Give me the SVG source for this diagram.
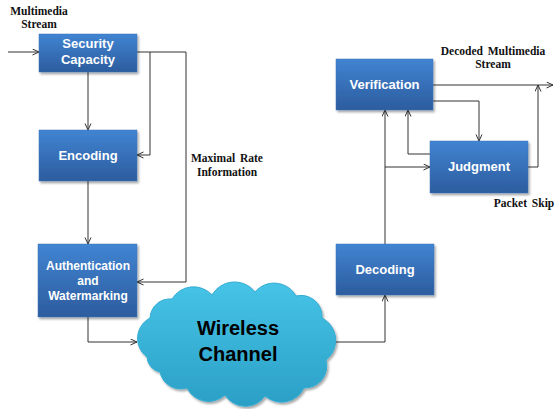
<svg xmlns="http://www.w3.org/2000/svg" width="555" height="409" viewBox="0 0 555 409">
<defs>
<linearGradient id="boxg" x1="0" y1="0" x2="0" y2="1">
<stop offset="0" stop-color="#4184d2"/>
<stop offset="1" stop-color="#2c5c9e"/>
</linearGradient>
<linearGradient id="cloudg" x1="0" y1="0" x2="0" y2="1">
<stop offset="0" stop-color="#46c4e7"/>
<stop offset="1" stop-color="#2b9fc6"/>
</linearGradient>
<filter id="sh" x="-10%" y="-10%" width="130%" height="130%">
<feDropShadow dx="1.5" dy="2" stdDeviation="1.2" flood-color="#000" flood-opacity="0.35"/>
</filter>
<marker id="arr" markerUnits="userSpaceOnUse" markerWidth="9" markerHeight="9" refX="7" refY="3.5" orient="auto">
<path d="M0.5,0.5 L7,3.5 L0.5,6.5" fill="none" stroke="#333" stroke-width="1"/>
</marker>
</defs>
<style>
.box{fill:url(#boxg);stroke:#3a74b8;stroke-width:0.5;filter:url(#sh)}
.bt{font-family:"Liberation Sans",Arial,sans-serif;font-weight:bold;font-size:13px;fill:#fff;text-anchor:middle}
.lbl{font-family:"Liberation Serif","Times New Roman",serif;font-weight:bold;font-size:11.5px;fill:#111;text-anchor:middle;word-spacing:2px}
.c{fill:none;stroke:#333;stroke-width:1;marker-end:url(#arr)}
</style>
<rect width="555" height="409" fill="#fff"/>
<g id="connectors">
<path class="c" d="M8,52 H39"/>
<path class="c" d="M137,52 H186 V282 H137"/>
<path class="c" d="M150,52 V155 H137"/>
<path class="c" d="M88,72 V130"/>
<path class="c" d="M88,181 V244"/>
<path class="c" d="M88,317 V342 H137"/>
<path class="c" d="M334,342 H385 V295"/>
<path class="c" d="M385,244 V110"/>
<path class="c" d="M385,167 H430"/>
<path class="c" d="M433,85 H553"/>
<path class="c" d="M433,101 H479 V141"/>
<path class="c" d="M430,154 H408 V110"/>
<path class="c" d="M528,167 H538 V85"/>
</g>
<g id="security-capacity">
<rect class="box" x="39" y="34" width="98" height="38"/>
<text class="bt" x="88" y="48">Security</text>
<text class="bt" x="88" y="64">Capacity</text>
</g>
<g id="encoding">
<rect class="box" x="39" y="130" width="98" height="51"/>
<text class="bt" x="88" y="160">Encoding</text>
</g>
<g id="authentication">
<rect class="box" x="38" y="244" width="99" height="73"/>
<text class="bt" x="88" y="270" style="font-size:12px">Authentication</text>
<text class="bt" x="88" y="285" style="font-size:12px">and</text>
<text class="bt" x="88" y="300" style="font-size:12px">Watermarking</text>
</g>
<g id="wireless-channel">
<path d="M150,318 A20,20 0 0 1 172,299 A25,25 0 0 1 212,295 A26,26 0 0 1 255,292 A25,25 0 0 1 296,296 A21,21 0 0 1 322,318 A25,25 0 0 1 326,360 A22,22 0 0 1 304,388 A25,25 0 0 1 265,396 A24,24 0 0 1 225,395 A24,24 0 0 1 187,388 A21,21 0 0 1 160,372 A16,16 0 0 1 147,357 A23,23 0 0 1 150,318 Z" fill="url(#cloudg)" stroke="#35acd3" stroke-width="1" filter="url(#sh)"/>
<text x="238" y="335" style="font-family:'Liberation Sans',Arial,sans-serif;font-weight:bold;font-size:20px;fill:#000;text-anchor:middle">Wireless</text>
<text x="238" y="361" style="font-family:'Liberation Sans',Arial,sans-serif;font-weight:bold;font-size:20px;fill:#000;text-anchor:middle">Channel</text>
</g>
<g id="decoding">
<rect class="box" x="336" y="244" width="98" height="51"/>
<text class="bt" x="385" y="274">Decoding</text>
</g>
<g id="verification">
<rect class="box" x="336" y="59" width="97" height="51"/>
<text class="bt" x="384.5" y="89">Verification</text>
</g>
<g id="judgment">
<rect class="box" x="430" y="141" width="98" height="52"/>
<text class="bt" x="479" y="171">Judgment</text>
</g>
<g id="labels">
<text class="lbl" x="39" y="15">Multimedia</text>
<text class="lbl" x="39" y="28">Stream</text>
<text class="lbl" x="227" y="162">Maximal Rate</text>
<text class="lbl" x="227" y="176">Information</text>
<text class="lbl" x="493" y="55">Decoded Multimedia</text>
<text class="lbl" x="493" y="68">Stream</text>
<text class="lbl" x="524" y="207">Packet Skip</text>
</g>
</svg>
